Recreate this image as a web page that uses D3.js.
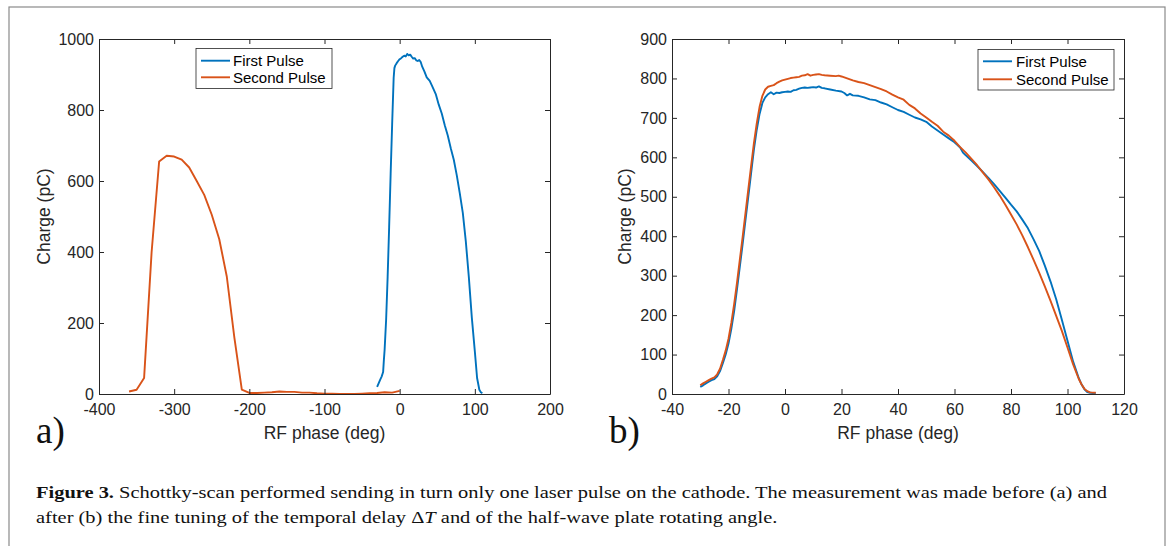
<!DOCTYPE html>
<html>
<head>
<meta charset="utf-8">
<script src="https://cdn.jsdelivr.net/npm/d3@7"></script>
<style>
  html, body { margin: 0; padding: 0; background: #fff; }
  svg { display: block; }
</style>
</head>
<body>
<svg id="chart" width="1171" height="546"></svg>
<script>
// ---------------- DATA ----------------
const seriesNames = ["First Pulse", "Second Pulse"];

// Panel a) first pulse
const aFirstPhase = [-30,-28,-26,-24,-22,-21,-20,-18,-16,-14,-12,-10,-8,-7,-6,-4,-2,0,2,4,6,8,10,12,14,16,18,20,22,24,26,28,30,33,36,40,44,48,52,56,60,64,68,72,76,80,84,88,92,96,100,103,106,108,110];
const aFirstCharge = [20,30,40,49,62,96,125,210,330,470,620,760,890,918,925,932,938,943,946,950,953,951,958,954,956,950,945,946,940,938,941,935,922,908,892,882,864,845,815,790,757,728,692,660,616,565,510,430,330,215,120,45,12,5,2];

// Panel a) second pulse
const aSecondPhase = [-360,-350,-340,-330,-320,-310,-300,-290,-280,-270,-260,-250,-240,-230,-220,-210,-200,-190,-180,-170,-160,-150,-140,-130,-120,-110,-100,-90,-80,-70,-60,-50,-40,-30,-20,-10,0];
const aSecondCharge = [7,12,45,400,655,671,669,660,638,600,561,505,436,331,160,12,3,3,4,5,7,6,6,4,4,2,1,1,0,0,0,1,2,3,5,4,9];

// Panel b) first pulse
const bFirstPhase = [-30,-29,-28,-27,-26,-25,-24,-23,-22,-21,-20,-19,-18,-17,-16,-15,-14,-13,-12,-11,-10,-9,-8,-7,-6,-5,-4,-3,-2,-1,0,1,2,3,4,5,6,7,8,9,10,11,12,13,14,16,18,20,21,22,23,24,26,28,30,32,34,36,38,40,42,44,46,48,50,52,54,56,58,60,62,63,64,66,68,70,72,74,76,78,80,82,84,86,88,90,92,94,96,98,100,102,104,105,106,107,108,110];
const bFirstCharge = [18,22,27,31,35,38,45,58,78,100,128,165,210,265,322,380,440,500,560,620,670,710,738,752,760,765,760,764,763,765,766,767,766,770,771,774,776,777,776,777,778,777,780,776,775,772,769,767,763,757,761,757,756,752,747,745,739,734,727,720,715,708,701,696,690,678,668,658,648,638,625,612,605,592,578,563,548,532,515,498,480,463,442,420,392,362,325,285,240,188,135,82,40,24,12,5,3,2];

// Panel b) second pulse
const bSecondPhase = [-30,-29,-28,-27,-26,-25,-24,-23,-22,-21,-20,-19,-18,-17,-16,-15,-14,-13,-12,-11,-10,-9,-8,-7,-6,-5,-4,-3,-2,-1,0,1,2,3,4,5,6,7,8,9,10,11,12,13,14,16,18,19,20,22,24,26,28,30,32,34,36,38,40,42,44,46,48,50,52,54,56,58,60,62,64,66,68,70,72,74,76,78,80,82,84,86,88,90,92,94,96,98,100,102,104,105,106,107,108,110];
const bSecondCharge = [22,27,31,35,39,42,50,64,86,110,140,180,228,282,340,398,458,518,578,636,686,728,756,772,779,781,783,788,792,795,797,799,801,802,803,804,807,808,811,807,809,810,811,809,808,807,806,807,805,800,795,791,788,783,778,773,767,759,752,746,733,724,711,701,690,680,665,655,642,626,612,596,580,562,544,524,503,480,455,430,402,372,340,307,272,236,198,160,118,75,38,24,13,7,4,3];

// Axis ticks
const aXTicks = [-400,-300,-200,-100,0,100,200];
const aYTicks = [0,200,400,600,800,1000];
const bXTicks = [-40,-20,0,20,40,60,80,100,120];
const bYTicks = [0,100,200,300,400,500,600,700,800,900];

const xLabel = "RF phase (deg)";
const yLabel = "Charge (pC)";
const captionBold = "Figure 3.";
const captionLine1 = " Schottky-scan performed sending in turn only one laser pulse on the cathode. The measurement was made before (a) and";
const captionLine2a = "after (b) the fine tuning of the temporal delay \u0394";
const captionLine2b = "T";
const captionLine2c = " and of the half-wave plate rotating angle.";

// ---------------- STYLE ----------------
const colors = ["#0072BD", "#D95319"];
const axisColor = "#262626";
const sansFont = "'Liberation Sans', Arial, Helvetica, sans-serif";
const serifFont = "'Liberation Serif', 'Times New Roman', serif";
const tickFmt = d => String(d); // plain hyphen-minus like the original

const svg = d3.select("#chart");

// outer frame
svg.append("rect")
  .attr("x", 9).attr("y", 7)
  .attr("width", 1156).attr("height", 560)
  .attr("fill", "none").attr("stroke", "#8a8a8a").attr("stroke-width", 1.2);

function panel(opts) {
  const { left, right, top, bottom, xDomain, yDomain, xTicks, yTicks, series, legend, tag, tagX, yLabelX } = opts;
  const x = d3.scaleLinear().domain(xDomain).range([left, right]);
  const y = d3.scaleLinear().domain(yDomain).range([bottom, top]);
  const g = svg.append("g");

  g.append("rect").attr("x", left).attr("y", top)
    .attr("width", right - left).attr("height", bottom - top).attr("fill", "#fff");

  // lines
  const line = d3.line().x(d => x(d[0])).y(d => y(d[1]));
  series.forEach((s, i) => {
    const pts = s.phase.map((p, k) => [p, s.charge[k]]);
    g.append("path").datum(pts)
      .attr("d", line)
      .attr("fill", "none")
      .attr("stroke", colors[i])
      .attr("stroke-width", 1.9)
      .attr("stroke-linejoin", "round");
  });

  const styleAxis = sel => {
    sel.select(".domain").attr("stroke", axisColor).attr("stroke-width", 1);
    sel.selectAll(".tick line").attr("stroke", axisColor).attr("stroke-width", 1);
    sel.selectAll(".tick text").attr("fill", axisColor)
      .style("font-family", sansFont).style("font-size", "16px");
  };

  g.append("g").attr("transform", `translate(0,${bottom})`)
    .call(d3.axisBottom(x).tickValues(xTicks).tickFormat(tickFmt)
      .tickSizeInner(-5).tickSizeOuter(0).tickPadding(10))
    .call(styleAxis);
  g.append("g").attr("transform", `translate(0,${top})`)
    .call(d3.axisTop(x).tickValues(xTicks).tickFormat("")
      .tickSizeInner(-5).tickSizeOuter(0))
    .call(styleAxis);
  g.append("g").attr("transform", `translate(${left},0)`)
    .call(d3.axisLeft(y).tickValues(yTicks).tickFormat(tickFmt)
      .tickSizeInner(-5).tickSizeOuter(0).tickPadding(5))
    .call(styleAxis);
  g.append("g").attr("transform", `translate(${right},0)`)
    .call(d3.axisRight(y).tickValues(yTicks).tickFormat("")
      .tickSizeInner(-5).tickSizeOuter(0))
    .call(styleAxis);

  // axis labels
  g.append("text")
    .attr("x", (left + right) / 2).attr("y", 439)
    .attr("text-anchor", "middle")
    .attr("fill", axisColor)
    .style("font-family", sansFont).style("font-size", "17.5px")
    .text(xLabel);
  g.append("text")
    .attr("transform", `translate(${yLabelX},${(top + bottom) / 2}) rotate(-90)`)
    .attr("text-anchor", "middle")
    .attr("fill", axisColor)
    .style("font-family", sansFont).style("font-size", "17.5px")
    .text(yLabel);

  // legend
  const lg = g.append("g");
  lg.append("rect")
    .attr("x", legend.x0).attr("y", legend.y0)
    .attr("width", legend.x1 - legend.x0).attr("height", legend.y1 - legend.y0)
    .attr("fill", "#fff").attr("stroke", axisColor).attr("stroke-width", 0.8);
  seriesNames.forEach((name, i) => {
    const ly = legend.rows[i];
    lg.append("line")
      .attr("x1", legend.lx0).attr("x2", legend.lx1)
      .attr("y1", ly).attr("y2", ly)
      .attr("stroke", colors[i]).attr("stroke-width", 1.9);
    lg.append("text")
      .attr("x", legend.tx).attr("y", ly)
      .attr("dy", "0.35em")
      .attr("fill", "#000")
      .style("font-family", sansFont).style("font-size", "15px")
      .text(name);
  });

  // panel tag
  g.append("text")
    .attr("x", tagX).attr("y", 443)
    .attr("fill", "#111")
    .style("font-family", serifFont).style("font-size", "37px")
    .text(tag);
}

panel({
  left: 99, right: 550, top: 39, bottom: 394,
  xDomain: [-400, 200], yDomain: [0, 1000],
  xTicks: aXTicks, yTicks: aYTicks,
  series: [
    { phase: aFirstPhase, charge: aFirstCharge },
    { phase: aSecondPhase, charge: aSecondCharge }
  ],
  legend: { x0: 196, x1: 332, y0: 48.5, y1: 88.5, lx0: 201, lx1: 230, tx: 233, rows: [60.7, 77.3] },
  tag: "a)", tagX: 36, yLabelX: 50
});

panel({
  left: 672, right: 1124, top: 39, bottom: 394,
  xDomain: [-40, 120], yDomain: [0, 900],
  xTicks: bXTicks, yTicks: bYTicks,
  series: [
    { phase: bFirstPhase, charge: bFirstCharge },
    { phase: bSecondPhase, charge: bSecondCharge }
  ],
  legend: { x0: 978, x1: 1114, y0: 49.5, y1: 90, lx0: 983, lx1: 1012, tx: 1016, rows: [61.3, 79.3] },
  tag: "b)", tagX: 609, yLabelX: 631
});

// caption
const cap = svg.append("g").style("font-family", serifFont).style("font-size", "17px").attr("fill", "#111");
const t1 = cap.append("text").attr("x", 36).attr("y", 498);
t1.append("tspan").style("font-weight", "bold").text(captionBold);
t1.append("tspan").text(captionLine1);
const t2 = cap.append("text").attr("x", 36).attr("y", 523);
t2.append("tspan").text(captionLine2a);
t2.append("tspan").style("font-style", "italic").text(captionLine2b);
t2.append("tspan").text(captionLine2c);

const w1 = t1.node().getComputedTextLength();
const w2 = t2.node().getComputedTextLength();
const target1 = 1071;
const k = target1 / w1;
t1.attr("textLength", target1).attr("lengthAdjust", "spacingAndGlyphs");
t2.attr("textLength", w2 * k).attr("lengthAdjust", "spacingAndGlyphs");
</script>
</body>
</html>
